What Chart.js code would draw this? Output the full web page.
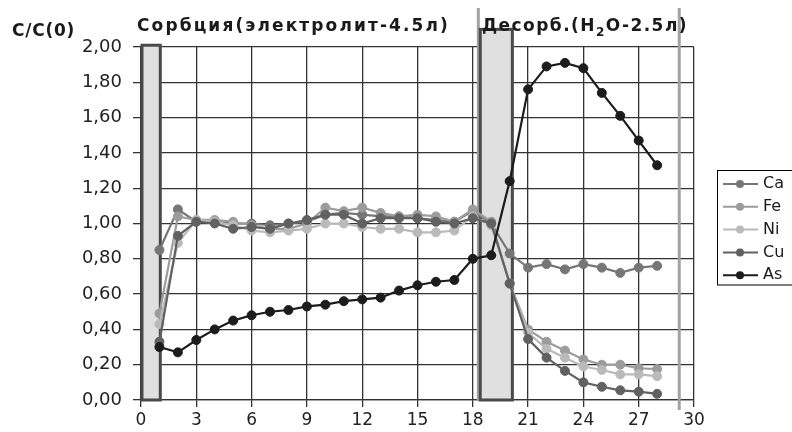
<!DOCTYPE html>
<html>
<head>
<meta charset="utf-8">
<script src="https://cdn.jsdelivr.net/npm/chart.js@4/dist/chart.umd.min.js"></script>
<style>
html,body{margin:0;padding:0;background:#fff;}
#wrap{width:792px;height:432px;position:relative;}
</style>
</head>
<body>
<div id="wrap"><canvas id="c" width="792" height="432"></canvas></div>
<script>
// ---- data ----
const xValues = [1,2,3,4,5,6,7,8,9,10,11,12,13,14,15,16,17,18,19,20,21,22,23,24,25,26,27,28];
const seriesNames = ['Ca','Fe','Ni','Cu','As'];
const ca = [0.85,1.08,1.01,1.01,1.00,1.00,0.99,1.00,1.01,1.05,1.06,1.05,1.04,1.04,1.03,1.02,1.01,1.07,1.00,0.83,0.75,0.77,0.74,0.77,0.75,0.72,0.75,0.76];
const fe = [0.49,1.04,1.02,1.02,1.01,0.99,0.97,0.97,1.00,1.09,1.07,1.09,1.06,1.04,1.05,1.04,1.01,1.08,1.01,0.66,0.40,0.33,0.28,0.23,0.20,0.20,0.18,0.175];
const ni = [0.43,0.89,1.02,1.01,0.99,0.96,0.95,0.96,0.97,1.00,1.00,0.98,0.97,0.97,0.95,0.95,0.96,1.04,0.99,0.66,0.38,0.29,0.24,0.19,0.17,0.145,0.145,0.135];
const cu = [0.33,0.93,1.01,1.00,0.97,0.98,0.97,1.00,1.02,1.05,1.05,1.00,1.03,1.03,1.03,1.01,1.00,1.03,1.00,0.66,0.345,0.24,0.165,0.10,0.075,0.055,0.047,0.035];
const as = [0.30,0.27,0.34,0.40,0.45,0.48,0.50,0.51,0.53,0.54,0.56,0.57,0.58,0.62,0.65,0.67,0.68,0.80,0.82,1.24,1.76,1.89,1.91,1.88,1.74,1.61,1.47,1.33];
const xTicks = [0,3,6,9,12,15,18,21,24,27,30];
const yTicks = [0,0.2,0.4,0.6,0.8,1.0,1.2,1.4,1.6,1.8,2.0];
// phase boxes in data units [x0, x1, yTop]
const phaseBoxes = [[0, 1.1, 2.01],[18.35, 20.2, 2.1]];
// phase markers (x positions)
const phaseLines = [18.3, 29.2];
const yAxisTitle = 'C/C(0)';
const sorptionTitle = 'Сорбция(электролит-4.5л)';
const desorpTitle = ['Десорб.(H','2','O-2.5л)'];

const colors = ['#767676','#9c9c9c','#bababa','#616161','#1c1c1c'];
const allSeries = [ca, fe, ni, cu, as];
const FONT = '"DejaVu Sans", "Liberation Sans", Arial, sans-serif';

const datasets = allSeries.map((arr, i) => ({
  label: seriesNames[i],
  data: arr.map((v, k) => ({x: xValues[k], y: v})),
  borderColor: colors[i],
  backgroundColor: colors[i],
  pointBackgroundColor: colors[i],
  pointBorderColor: colors[i],
  pointRadius: 4.5,
  pointBorderWidth: 1,
  borderWidth: 2.2,
  tension: 0,
  order: i === 4 ? 0 : 5 - i
}));

function fitText(ctx, text, x, y, width) {
  const ls = 'letterSpacing' in ctx;
  if (ls) ctx.letterSpacing = '0px';
  const w = ctx.measureText(text).width;
  const sp = (width - w) / text.length;
  if (ls) ctx.letterSpacing = sp + 'px';
  ctx.fillText(text, x, y);
  if (ls) ctx.letterSpacing = '0px';
}

const decor = {
  id: 'decor',
  beforeDatasetsDraw(chart) {
    const {ctx, scales: {x, y}} = chart;
    ctx.save();
    ctx.strokeStyle = '#a2a2a2';
    ctx.lineWidth = 3;
    phaseLines.forEach(v => {
      const px = x.getPixelForValue(v);
      ctx.beginPath();
      ctx.moveTo(px, 8);
      ctx.lineTo(px, y.getPixelForValue(0) + (v > 25 ? 10 : 0));
      ctx.stroke();
    });
    phaseBoxes.forEach(b => {
      const x0 = x.getPixelForValue(b[0]), x1 = x.getPixelForValue(b[1]);
      const yt = y.getPixelForValue(b[2]), yb = y.getPixelForValue(0);
      ctx.fillStyle = '#e0e0e0';
      ctx.fillRect(x0, yt, x1 - x0, yb - yt);
      ctx.strokeStyle = '#4a4a4a';
      ctx.lineWidth = 3;
      ctx.strokeRect(x0 + 1, yt, x1 - x0 - 2, yb - yt);
    });
    ctx.restore();
  },
  afterDraw(chart) {
    const {ctx} = chart;
    ctx.save();
    ctx.fillStyle = '#1a1a1a';
    ctx.textBaseline = 'middle';
    ctx.textAlign = 'left';
    ctx.font = 'bold 17px ' + FONT;
    fitText(ctx, yAxisTitle, 12, 32, 63);
    ctx.font = 'bold 17px ' + FONT;
    fitText(ctx, sorptionTitle, 137, 27, 313);
    // desorption title with subscript, fitted to width
    const f1 = 'bold 17px ' + FONT, f2 = 'bold 12px ' + FONT;
    const ls = 'letterSpacing' in ctx;
    if (ls) ctx.letterSpacing = '0px';
    ctx.font = f1;
    const w0 = ctx.measureText(desorpTitle[0]).width, w2 = ctx.measureText(desorpTitle[2]).width;
    ctx.font = f2;
    const w1 = ctx.measureText(desorpTitle[1]).width;
    const n = desorpTitle.join('').length;
    const sp = (206 - w0 - w1 - w2) / n;
    let px = 482;
    if (ls) ctx.letterSpacing = sp + 'px';
    ctx.font = f1; ctx.fillText(desorpTitle[0], px, 27); px += w0 + sp * desorpTitle[0].length;
    ctx.font = f2; ctx.fillText(desorpTitle[1], px, 33); px += w1 + sp;
    ctx.font = f1; ctx.fillText(desorpTitle[2], px, 27);
    if (ls) ctx.letterSpacing = '0px';
    // legend
    const lx = 717, top = 170, step = 22.8;
    ctx.strokeStyle = '#000';
    ctx.lineWidth = 1;
    ctx.strokeRect(lx + 0.5, top + 0.5, 120, 114.5);
    ctx.font = '16px ' + FONT;
    seriesNames.forEach((nm, i) => {
      const cy = top + 190 - 170 - 8 + i * step + 2;
      ctx.strokeStyle = colors[i];
      ctx.lineWidth = 2;
      ctx.beginPath(); ctx.moveTo(lx + 6, cy); ctx.lineTo(lx + 41, cy); ctx.stroke();
      ctx.fillStyle = colors[i];
      ctx.beginPath(); ctx.arc(lx + 23, cy, 4, 0, Math.PI * 2); ctx.fill();
      ctx.fillStyle = '#1a1a1a';
      ctx.fillText(nm, lx + 46, cy);
    });
    ctx.restore();
  }
};

new Chart(document.getElementById('c'), {
  type: 'line',
  data: { datasets },
  options: {
    responsive: false,
    animation: false,
    events: [],
    layout: { padding: { top: 47, right: 98, bottom: 0, left: 0 } },
    plugins: { legend: { display: false }, tooltip: { enabled: false } },
    scales: {
      x: {
        type: 'linear', min: 0, max: 30,
        afterBuildTicks: s => { s.ticks = xTicks.map(v => ({value: v})); },
        afterFit: s => { s.height = 32; },
        ticks: { color: '#222', font: { family: FONT, size: 17 }, padding: 3, maxRotation: 0 },
        grid: { color: '#333', lineWidth: 1.3, tickLength: 7, drawTicks: true },
        border: { color: '#333', width: 1.3 }
      },
      y: {
        min: 0, max: 2,
        afterBuildTicks: s => { s.ticks = yTicks.map(v => ({value: v})); },
        afterFit: s => { s.width = 141; },
        ticks: {
          color: '#222', font: { family: FONT, size: 18 }, padding: 11,
          callback: v => Number(v).toFixed(2).replace('.', ',')
        },
        grid: { color: '#333', lineWidth: 1.3, tickLength: 8, drawTicks: true },
        border: { color: '#333', width: 1.3 }
      }
    }
  },
  plugins: [decor]
});
</script>
</body>
</html>
